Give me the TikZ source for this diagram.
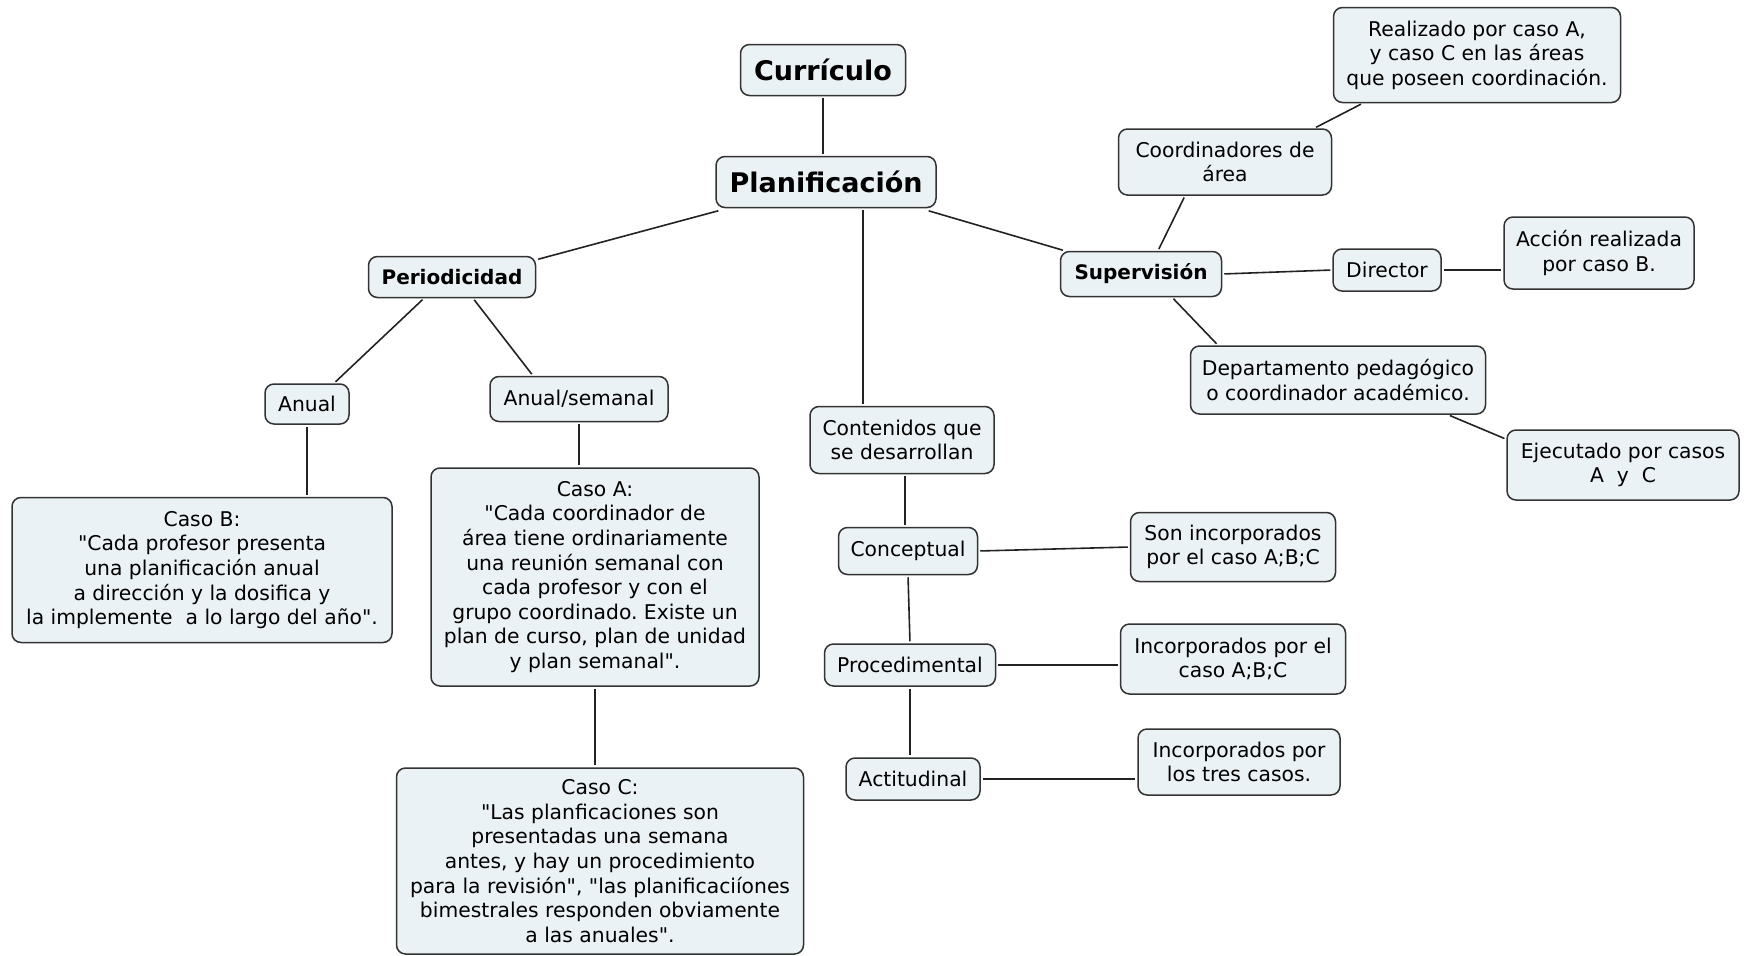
\documentclass[tikz,border=0pt]{standalone}
\usepackage{fontspec}
\setmainfont{DejaVu Sans}[Ligatures=TeXOff]
\frenchspacing
\definecolor{boxfill}{HTML}{EBF2F5}
\definecolor{boxline}{HTML}{333333}
\definecolor{linkcol}{HTML}{222222}
\begin{document}
\begin{tikzpicture}[x=1pt,y=-1pt,
  box/.style={draw=boxline,fill=boxfill,line width=1.5pt,rounded corners=9pt,
    align=center,inner sep=0pt,font=\fontsize{20.3}{24.6}\selectfont},
  topbox/.style={box,font=\fontsize{27}{32}\selectfont\bfseries},
  midbox/.style={box,font=\fontsize{20}{24.5}\selectfont\bfseries},
  link/.style={draw=linkcol,line width=1.6pt,shorten <=2pt,shorten >=2pt}]
\useasboundingbox (0,0) rectangle (1746,956);

% central branch
\node[topbox,minimum width=165pt,minimum height=51pt] (cur) at (823,70) {Currículo};
\node[topbox,minimum width=220pt,minimum height=51pt] (plan) at (826,182) {Planificación};

% periodicity branch
\node[midbox,minimum width=167pt,minimum height=41pt] (per) at (452,277) {Periodicidad};
\node[box,minimum width=84pt,minimum height=40pt] (anual) at (307,404) {Anual};
\node[box,minimum width=178pt,minimum height=45pt] (asem) at (579,399) {Anual/semanal};
\node[box,minimum width=380pt,minimum height=145pt] (casob) at (202,570)
  {Caso B:\\"Cada profesor presenta\\una planificación anual\\a dirección y la dosifica y\\la implemente \ a lo largo del año".};
\node[box,minimum width=328pt,minimum height=218pt] (casoa) at (595,577)
  {Caso A:\\"Cada coordinador de\\área tiene ordinariamente\\una reunión semanal con\\cada profesor y con el\\grupo coordinado. Existe un\\plan de curso, plan de unidad\\y plan semanal".};
\node[box,minimum width=407pt,minimum height=186pt] (casoc) at (600,861)
  {Caso C:\\"Las planficaciones son\\presentadas una semana\\antes, y hay un procedimiento\\para la revisión", "las planificaciíones\\bimestrales responden obviamente\\a las anuales".};

% contents branch
\node[box,minimum width=184pt,minimum height=67pt] (cont) at (902,440) {Contenidos que\\se desarrollan};
\node[box,minimum width=139pt,minimum height=47pt] (conc) at (908,551) {Conceptual};
\node[box,minimum width=171pt,minimum height=42pt] (proc) at (910,665) {Procedimental};
\node[box,minimum width=134pt,minimum height=42pt] (act) at (913,779) {Actitudinal};
\node[box,minimum width=205pt,minimum height=69pt] (son) at (1233,547) {Son incorporados\\por el caso A;B;C};
\node[box,minimum width=225pt,minimum height=70pt] (inc1) at (1233,659) {Incorporados por el\\caso A;B;C};
\node[box,minimum width=202pt,minimum height=66pt] (inc3) at (1239,762) {Incorporados por\\los tres casos.};

% supervision branch
\node[midbox,minimum width=161pt,minimum height=45pt] (sup) at (1141,274) {Supervisión};
\node[box,minimum width=213pt,minimum height=66pt] (coord) at (1225,162) {Coordinadores de\\área};
\node[box,minimum width=287pt,minimum height=95pt] (real) at (1477,55) {Realizado por caso A,\\y caso C en las áreas\\que poseen coordinación.};
\node[box,minimum width=108pt,minimum height=42pt] (dir) at (1387,270) {Director};
\node[box,minimum width=190pt,minimum height=72pt] (acc) at (1599,253) {Acción realizada\\por caso B.};
\node[box,minimum width=295pt,minimum height=68pt] (dep) at (1338,380) {Departamento pedagógico\\o coordinador académico.};
\node[box,minimum width=232pt,minimum height=70pt] (eje) at (1623,465) {Ejecutado por casos\\A \ y \ C};

% connectors
\draw[link] (cur.south) -- (cur.south |- plan.north);
\draw[link] ([xshift=5pt,yshift=-2pt]plan.south west) -- ([yshift=-4pt]per.north east);
\draw[link] ([xshift=37pt]plan.south) -- ([xshift=-39pt]cont.north);
\draw[link] ([xshift=-10pt,yshift=-2pt]plan.south east) -- ([xshift=5pt]sup.north west);
\draw[link] ([xshift=-28pt]per.south) -- ([xshift=27pt]anual.north);
\draw[link] ([xshift=21pt]per.south) -- ([xshift=-46pt]asem.north);
\draw[link] (anual.south) -- (anual.south |- casob.north);
\draw[link] (asem.south) -- (asem.south |- casoa.north);
\draw[link] (casoa.south) -- (casoa.south |- casoc.north);
\draw[link] ([xshift=3pt]cont.south) -- ([xshift=-3pt]conc.north);
\draw[link] (conc.south) -- (proc.north);
\draw[link] (proc.south) -- (proc.south |- act.north);
\draw[link] (conc.east) -- (son.west);
\draw[link] (proc.east) -- (proc.east -| inc1.west);
\draw[link] (act.east) -- (act.east -| inc3.west);
\draw[link] ([xshift=17pt]sup.north) -- ([xshift=-40pt]coord.south);
\draw[link] ([xshift=-18pt]coord.north east) -- ([xshift=30pt]real.south west);
\draw[link] (sup.east) -- (dir.west);
\draw[link] (dir.east) -- (dir.east -| acc.west);
\draw[link] ([xshift=31pt]sup.south) -- ([xshift=-120pt]dep.north);
\draw[link] ([xshift=110pt]dep.south) -- ([yshift=-10pt]eje.north west);
\end{tikzpicture}
\end{document}
